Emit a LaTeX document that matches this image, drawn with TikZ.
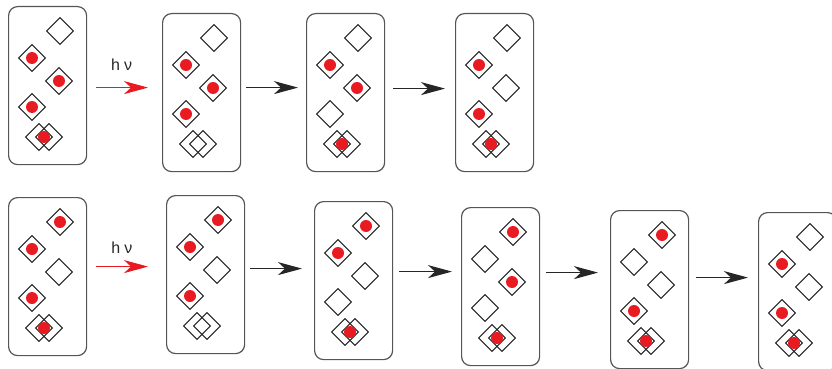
\documentclass[tikz,border=0pt]{standalone}
\usepackage{fontspec}
\setmainfont{Liberation Sans}
\usetikzlibrary{arrows.meta}

\definecolor{spotred}{RGB}{232,26,34}
\definecolor{rim}{RGB}{85,85,85}

% six sites in every cell, red spots only where given
\newcommand{\fillsites}[2]{%
  \foreach \x/\y in {52/25,24/52,51/75,24/101,31/131,41/131}
    \node[site] (#1-\x-\y) at ([shift={(\x,\y)}]#1.north west) {};
  \foreach \x/\y in {#2}
    \node[spot] (#1-spot-\x-\y) at ([shift={(\x,\y)}]#1.north west) {};
}

\begin{document}
\begin{tikzpicture}[x=1pt,y=-1pt,>={Stealth[length=24pt,width=13pt,inset=7pt]},
        cell/.style={draw=rim,line width=1.2pt,rounded corners=9pt,anchor=north west,
          minimum width=78pt,minimum height=158pt,inner sep=0pt},
        site/.style={draw=black!85,line width=1.1pt,rotate=45,minimum size=19pt,inner sep=0pt},
        spot/.style={circle,fill=spotred,minimum size=12pt,inner sep=0pt},
        flow/.style={->,line width=1.2pt,black!85},
        photon/.style={->,line width=1pt,spotred},
        hnu/.style={inner sep=0pt,text=black!85,font=\fontsize{16}{18}\selectfont}]
        \useasboundingbox (0,0) rectangle (832,369);

        % first row
        \node[cell] (r1b1) at (8,6) {};
        \node[cell] (r1b2) at (162,13) {};
        \node[cell] (r1b3) at (306,13) {};
        \node[cell] (r1b4) at (455,13) {};

        \fillsites{r1b1}{24/52,51/75,24/101,36/131}
        \fillsites{r1b2}{24/52,51/75,24/101}
        \fillsites{r1b3}{24/52,51/75,36/131}
        \fillsites{r1b4}{24/52,24/101,36/131}

        \draw[photon,shorten <=9pt,shorten >=14pt] ([yshift=-2pt]r1b1.east) -- ([yshift=-2pt]r1b1.east -| r1b2.west)
          node[hnu,pos=0.46,above=17pt] {h\hspace{4pt}ν};
        \draw[flow,shorten <=5pt,shorten >=8pt] ([yshift=5pt]r1b2.east) -- ([yshift=5pt]r1b2.east -| r1b3.west);
        \draw[flow,shorten <=8pt,shorten >=10pt] ([yshift=4pt]r1b3.east) -- ([yshift=4pt]r1b3.east -| r1b4.west);

        % second row
        \node[cell] (r2b1) at (8,197) {};
        \node[cell] (r2b2) at (166,195) {};
        \node[cell] (r2b3) at (314,201) {};
        \node[cell] (r2b4) at (461,207) {};
        \node[cell] (r2b5) at (610,210) {};
        \node[cell] (r2b6) at (758,212) {};

        \fillsites{r2b1}{52/25,24/52,24/101,36/131}
        \fillsites{r2b2}{52/25,24/52,24/101}
        \fillsites{r2b3}{52/25,24/52,36/131}
        \fillsites{r2b4}{52/25,51/75,36/131}
        \fillsites{r2b5}{52/25,24/101,36/131}
        \fillsites{r2b6}{24/52,24/101,36/131}

        \draw[photon,shorten <=9pt,shorten >=18pt] ([yshift=10pt]r2b1.east) -- ([yshift=10pt]r2b1.east -| r2b2.west)
          node[hnu,pos=0.44,above=13pt] {h\hspace{4pt}ν};
        \draw[flow,shorten <=5pt,shorten >=12pt] ([yshift=6pt]r2b2.east) -- ([yshift=6pt]r2b2.east -| r2b3.west);
        \draw[flow,shorten <=6pt,shorten >=9pt] ([yshift=9pt]r2b3.east) -- ([yshift=9pt]r2b3.east -| r2b4.west);
        \draw[flow,shorten <=6pt,shorten >=12pt] ([yshift=14pt]r2b4.east) -- ([yshift=14pt]r2b4.east -| r2b5.west);
        \draw[flow,shorten <=7pt,shorten >=10pt] ([yshift=12pt]r2b5.east) -- ([yshift=12pt]r2b5.east -| r2b6.west);
\end{tikzpicture}
\end{document}
